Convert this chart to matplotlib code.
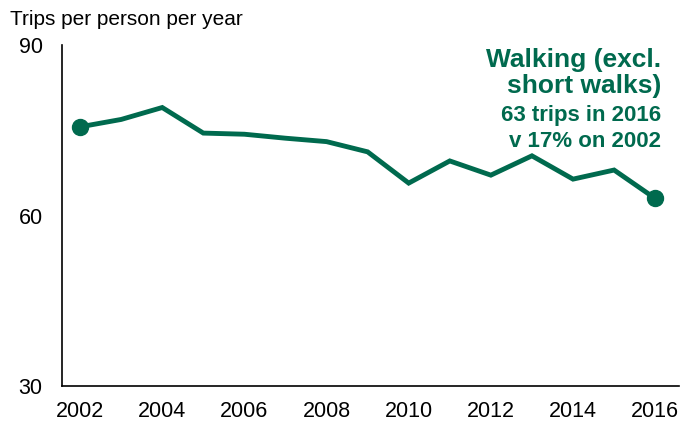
#!/usr/bin/env python3
"""Walking trips per person per year, 2002-2016."""

import matplotlib
matplotlib.use('Agg')
import matplotlib.pyplot as plt

years = list(range(2002, 2017))
trips = [75.6, 76.9, 79.0, 74.5, 74.3, 73.6, 73.0, 71.2,
         65.7, 69.6, 67.1, 70.5, 66.4, 68.0, 63.0]
x_ticks = list(range(2002, 2017, 2))
y_ticks = [30, 60, 90]

GREEN = '#006A4E'

plt.rcParams['font.family'] = ['Liberation Sans', 'DejaVu Sans']

fig = plt.figure(figsize=(6.81, 4.25), dpi=100)
ax = fig.add_axes([62 / 681, 1 - 386 / 425, (679 - 62) / 681, (386 - 45) / 425])

ax.plot(years, trips, color=GREEN, linewidth=3.5, solid_joinstyle='miter')
ax.plot([years[0], years[-1]], [trips[0], trips[-1]], 'o', color=GREEN,
        markersize=11.5)

ax.set_xlim(2001.56, 2016.58)
ax.set_ylim(30, 90)
ax.set_xticks(x_ticks)
ax.set_yticks(y_ticks)
ax.tick_params(axis='both', length=0, labelsize=15.5, colors='black')
ax.tick_params(axis='y', pad=14)
ax.tick_params(axis='x', pad=11)
for side in ('top', 'right'):
    ax.spines[side].set_visible(False)
for side in ('left', 'bottom'):
    ax.spines[side].set_linewidth(1.2)
    ax.spines[side].set_color('black')

fig.text(10 / 681, 1 - 25 / 425, 'Trips per person per year', fontsize=15,
         ha='left', va='baseline')

lines = [
    ('Walking (excl.', 19, 66.7),
    ('short walks)', 19, 93),
    ('63 trips in 2016', 16, 120.7),
    ('v 17% on 2002', 16, 146.7),
]
for text, size, base in lines:
    fig.text(661 / 681, 1 - base / 425, text, fontsize=size, fontweight='bold',
             color=GREEN, ha='right', va='baseline')

fig.savefig('out.png', dpi=100)
